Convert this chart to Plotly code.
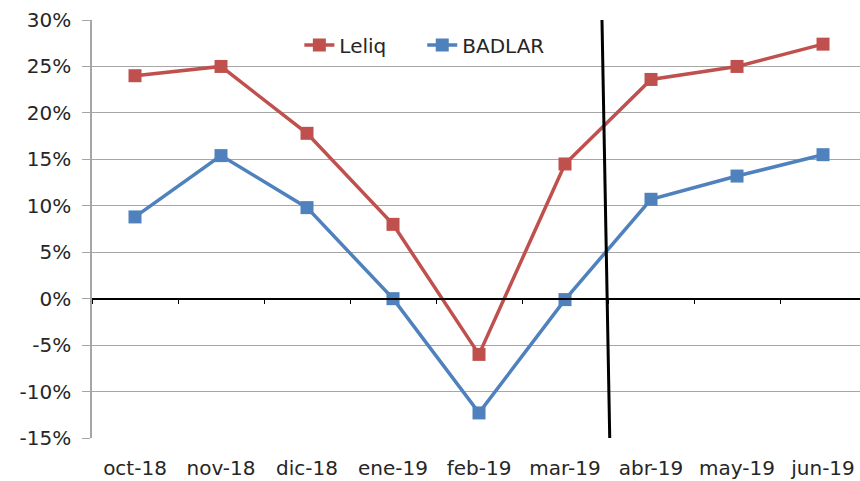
import plotly.graph_objects as go

months = ["oct-18", "nov-18", "dic-18", "ene-19", "feb-19", "mar-19", "abr-19", "may-19", "jun-19"]
leliq = [24.0, 25.0, 17.8, 8.0, -6.0, 14.5, 23.6, 25.0, 27.4]
badlar = [8.8, 15.4, 9.8, 0.0, -12.3, -0.1, 10.7, 13.2, 15.5]
y_ticks = [-15, -10, -5, 0, 5, 10, 15, 20, 25, 30]
y_tick_labels = ["-15%", "-10%", "-5%", "0%", "5%", "10%", "15%", "20%", "25%", "30%"]

RED = "#C0504D"
BLUE = "#4F81BD"
FONT = "DejaVu Sans"

fig = go.Figure()
fig.add_trace(go.Scatter(x=months, y=leliq, name="Leliq", mode="lines+markers",
                         line=dict(color=RED, width=3.5), legend="legend",
                         marker=dict(symbol="square", size=13, color=RED)))
fig.add_trace(go.Scatter(x=months, y=badlar, name="BADLAR", mode="lines+markers",
                         line=dict(color=BLUE, width=3.5), legend="legend2",
                         marker=dict(symbol="square", size=13, color=BLUE)))
# invisible trace on secondary x axis (zero-line tick marks)
fig.add_trace(go.Scatter(x=months, y=[None]*len(months), xaxis="x2", showlegend=False,
                         hoverinfo="skip"))

# separating vertical line between mar-19 and abr-19
fig.add_shape(type="line", xref="x", yref="y", x0=5.43, y0=30, x1=5.52, y1=-15,
              line=dict(color="black", width=3))

xr = [-0.5, 8.43]
leg_common = dict(y=0.94, xanchor="left", yanchor="middle",
                  bgcolor="rgba(0,0,0,0)", font=dict(size=20))
fig.update_layout(
    width=860, height=481,
    margin=dict(l=92, r=0, t=20, b=43, autoexpand=False),
    paper_bgcolor="white", plot_bgcolor="white",
    font=dict(family=FONT, size=20, color="#262626"),
    showlegend=True,
    legend=dict(x=0.27, **leg_common),
    legend2=dict(x=0.43, **leg_common),
    xaxis=dict(type="category", range=xr, showgrid=False, showline=False, ticks="",
               tickfont=dict(size=20), ticklabelstandoff=16, zeroline=False,
               automargin=False),
    xaxis2=dict(type="category", overlaying="x", anchor="free", position=1/3,
                range=xr, showline=True, linecolor="black", linewidth=1.5,
                ticks="outside", tickson="boundaries", ticklen=5, tickcolor="black",
                showticklabels=False, showgrid=False, zeroline=False, automargin=False),
    yaxis=dict(range=[-15, 30], tickvals=y_ticks, ticktext=y_tick_labels, showgrid=True,
               gridcolor="#a6a6a6", gridwidth=1, zeroline=False,
               showline=True, linecolor="#a6a6a6", linewidth=1.5,
               ticks="outside", ticklen=8, tickcolor="#a6a6a6",
               tickfont=dict(size=20), ticklabelstandoff=7, automargin=False),
)

fig.write_html("out.html", config={"displayModeBar": False},
               post_script="document.body.style.margin='0';")
